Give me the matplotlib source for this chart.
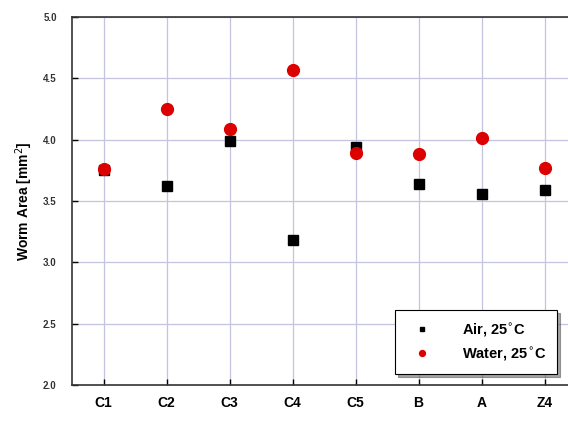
import matplotlib
matplotlib.use("Agg")
import matplotlib.pyplot as plt

categories = ["C1", "C2", "C3", "C4", "C5", "B", "A", "Z4"]
air_25 = [3.75, 3.62, 3.99, 3.18, 3.94, 3.64, 3.56, 3.59]
water_25 = [3.76, 4.25, 4.09, 4.57, 3.89, 3.88, 4.01, 3.77]
y_ticks = [2.0, 2.5, 3.0, 3.5, 4.0, 4.5, 5.0]

plt.rcParams['font.family'] = ['Liberation Sans', 'DejaVu Sans']

fig = plt.figure(figsize=(5.68, 4.25), dpi=100)
ax = fig.add_axes([72/568, 40/425, 504/568, 368/425])

x = list(range(1, len(categories) + 1))
ax.plot(x, air_25, 's', color='black', markersize=7, label='Air, 25$^{\\circ}$C', zorder=3)
ax.plot(x, water_25, 'o', color='#dd0000', markersize=8.5, label='Water, 25$^{\\circ}$C', zorder=4)

ax.set_xlim(0.5, 8.5)
ax.set_ylim(2.0, 5.0)
ax.set_xticks(x)
ax.set_xticklabels(categories, fontsize=10, fontweight='bold')
ax.set_yticks(y_ticks)
ax.set_yticklabels([f"{v:.1f}" for v in y_ticks], fontsize=7, fontweight='bold', color='#333333')
ax.tick_params(direction='in', length=4, width=1)
ax.tick_params(axis='y', pad=11)
ax.tick_params(axis='x', pad=8)
ax.grid(True, color='#c4c4e0', linewidth=0.9)
ax.set_axisbelow(True)
for s in ax.spines.values():
    s.set_linewidth(1.2)
    s.set_color('#333333')

ax.set_ylabel('Worm Area [mm$^{2}$]', fontsize=10, fontweight='bold', labelpad=6)

leg = ax.legend(loc='lower right', bbox_to_anchor=(0.962, 0.03), fontsize=10.5, shadow=True,
                fancybox=False, markerscale=0.5, handletextpad=1.6, handlelength=2.2,
                borderpad=0.75, edgecolor='black', framealpha=1, borderaxespad=0)
for t in leg.get_texts():
    t.set_fontweight('bold')
leg.get_frame().set_linewidth(0.8)

fig.savefig('out.png', dpi=100)
